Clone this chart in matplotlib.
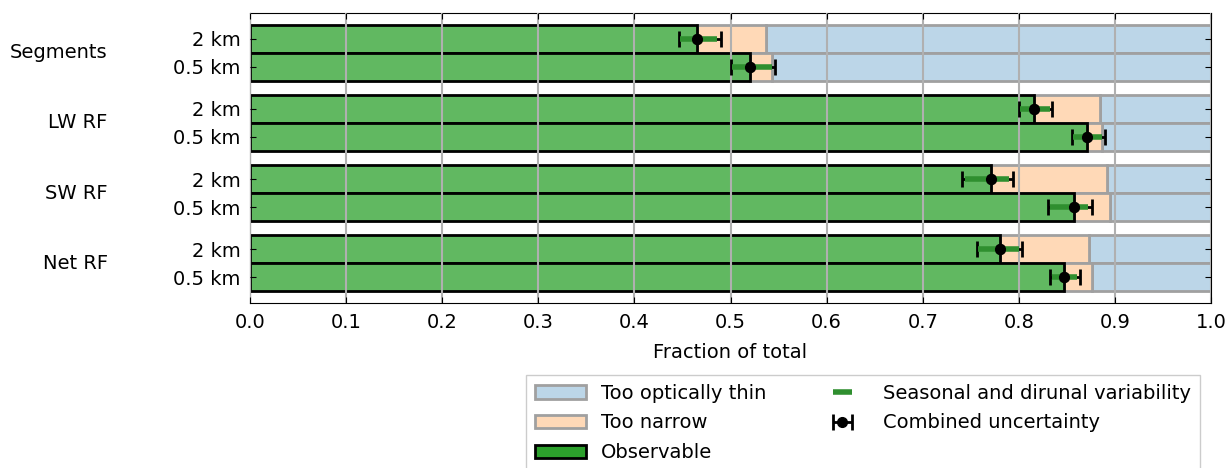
import numpy as np
import matplotlib
matplotlib.use('Agg')
import matplotlib.pyplot as plt
from matplotlib.patches import Patch
import matplotlib.transforms as mtransforms

plt.rcParams['font.family'] = ['DejaVu Sans']
plt.rcParams['font.size'] = 14

# groups and resolutions
groups = ['Segments', 'LW RF', 'SW RF', 'Net RF']
resolutions = ['2 km', '0.5 km']

# fraction observable (green), observable + too narrow (orange edge)
observable_2km = [0.465, 0.816, 0.771, 0.780]
observable_05km = [0.520, 0.871, 0.857, 0.847]
narrow_end_2km = [0.537, 0.884, 0.892, 0.873]
narrow_end_05km = [0.543, 0.887, 0.895, 0.876]

# combined uncertainty (low, high)
comb_lo_2km = [0.446, 0.800, 0.741, 0.756]
comb_hi_2km = [0.490, 0.835, 0.794, 0.803]
comb_lo_05km = [0.501, 0.855, 0.830, 0.832]
comb_hi_05km = [0.546, 0.890, 0.876, 0.864]

# seasonal and diurnal variability (low, high)
var_lo_2km = [0.447, 0.801, 0.744, 0.758]
var_hi_2km = [0.486, 0.832, 0.790, 0.800]
var_lo_05km = [0.502, 0.856, 0.832, 0.834]
var_hi_05km = [0.543, 0.887, 0.872, 0.861]

blue = '#bcd6e8'
orange = '#ffd9b7'
green_bar = '#61b861'
green_var = '#2f8f2f'

fig = plt.figure(figsize=(12.29, 4.68), dpi=100)
ax = fig.add_axes([0.2034, 0.3526, 0.7820, 0.6196])

centers = np.arange(len(groups))
h = 0.4
ypos = {'2 km': centers - 0.2, '0.5 km': centers + 0.2}
obs = {'2 km': observable_2km, '0.5 km': observable_05km}
nend = {'2 km': narrow_end_2km, '0.5 km': narrow_end_05km}
clo = {'2 km': comb_lo_2km, '0.5 km': comb_lo_05km}
chi = {'2 km': comb_hi_2km, '0.5 km': comb_hi_05km}
vlo = {'2 km': var_lo_2km, '0.5 km': var_lo_05km}
vhi = {'2 km': var_hi_2km, '0.5 km': var_hi_05km}

for r in resolutions:
    y = ypos[r]
    o = np.array(obs[r])
    n = np.array(nend[r])
    ax.barh(y, 1 - n, left=n, height=h, color=blue, edgecolor='#a0a0a0', lw=2, zorder=1)
    ax.barh(y, n - o, left=o, height=h, color=orange, edgecolor='#a0a0a0', lw=2, zorder=1)
    ax.barh(y, o, height=h, color=green_bar, edgecolor='black', lw=2, zorder=2)

ax.grid(axis='x', color='#b0b0b0', lw=1.5, zorder=3)
ax.set_axisbelow(False)

for r in resolutions:
    y = ypos[r]
    o = np.array(obs[r])
    comb = ax.errorbar(o, y, xerr=[o - np.array(clo[r]), np.array(chi[r]) - o],
                       fmt='o', color='black', ms=7, capsize=5.5, capthick=2,
                       elinewidth=2, zorder=5)
    # variability drawn as a thick green bar around the same centre
    var = ax.errorbar(o, y, xerr=[o - np.array(vlo[r]), np.array(vhi[r]) - o],
                      fmt='none', ecolor=green_var, elinewidth=4, zorder=6)
    ax.plot(o, y, 'o', color='black', ms=7, zorder=7)

ax.set_xlim(0, 1)
ax.set_ylim(3.4 + 0.17, -0.4 - 0.17)
ax.set_xticks(np.arange(0, 1.01, 0.1))
ax.set_xticklabels(['%.1f' % v for v in np.arange(0, 1.01, 0.1)])
yt = np.concatenate([ypos['2 km'], ypos['0.5 km']])
ax.set_yticks(yt)
ax.set_yticklabels(['2 km'] * len(groups) + ['0.5 km'] * len(groups))
ax.tick_params(direction='in', top=True, right=True, length=4)
ax.tick_params(axis='y', pad=7)
ax.tick_params(axis='x', pad=7)
ax.set_xlabel('Fraction of total', labelpad=8)

trans = mtransforms.blended_transform_factory(ax.transAxes, ax.transData)
for c, g in zip(centers, groups):
    ax.text(-0.148, c, g, transform=trans, ha='right', va='center')

handles = [
    Patch(facecolor=blue, edgecolor='#a0a0a0', lw=2),
    Patch(facecolor=orange, edgecolor='#a0a0a0', lw=2),
    Patch(facecolor='#2ca02c', edgecolor='black', lw=2),
    var,
    comb,
]
labels = ['Too optically thin', 'Too narrow', 'Observable',
          'Seasonal and dirunal variability', 'Combined uncertainty']
fig.legend(handles, labels, ncol=2, loc='upper right', bbox_to_anchor=(1200 / 1229, 1 - 375 / 468),
           borderaxespad=0, handlelength=2.6, handletextpad=0.8, labelspacing=0.55,
           columnspacing=2.6, borderpad=0.45, fancybox=False, edgecolor='#cccccc',
           framealpha=1)

fig.savefig('out.png', dpi=100)
